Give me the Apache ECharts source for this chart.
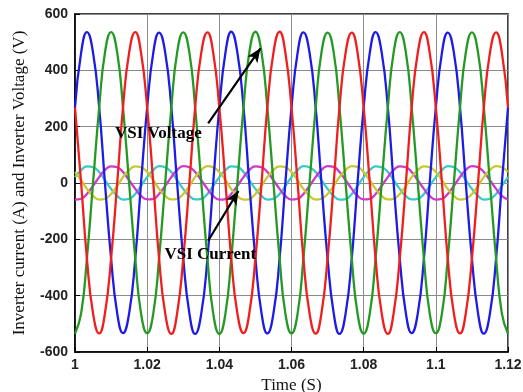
<!DOCTYPE html>
<html>
<head>
<meta charset="utf-8">
<script src="https://cdn.jsdelivr.net/npm/echarts@6/dist/echarts.min.js"></script>
<style>html,body{margin:0;padding:0;background:#fff;}#c{width:523px;height:392px;}</style>
</head>
<body>
<div id="c"></div>
<script>
// Time samples (s)
const time = [
1.0000,1.0017,1.0033,1.0050,1.0067,1.0083,1.0100,1.0117,1.0133,1.0150,1.0167,1.0183,
1.0200,1.0217,1.0233,1.0250,1.0267,1.0283,1.0300,1.0317,1.0333,1.0350,1.0367,1.0383,
1.0400,1.0417,1.0433,1.0450,1.0467,1.0483,1.0500,1.0517,1.0533,1.0550,1.0567,1.0583,
1.0600,1.0617,1.0633,1.0650,1.0667,1.0683,1.0700,1.0717,1.0733,1.0750,1.0767,1.0783,
1.0800,1.0817,1.0833,1.0850,1.0867,1.0883,1.0900,1.0917,1.0933,1.0950,1.0967,1.0983,
1.1000,1.1017,1.1033,1.1050,1.1067,1.1083,1.1100,1.1117,1.1133,1.1150,1.1167,1.1183,
1.1200];

// VSI voltages (V)
const voltageBlue = [
268,463,536,463,268,0,-268,-463,-533,-463,-268,0,
268,463,534,463,268,0,-268,-463,-536,-463,-268,0,
268,463,537,463,268,0,-268,-463,-534,-463,-268,0,
268,463,535,463,268,0,-268,-463,-536,-463,-268,0,
268,463,536,463,268,0,-268,-463,-533,-463,-268,0,
268,463,534,463,268,0,-268,-463,-535,-463,-268,0,
268];
const voltageGreen = [
-535,-463,-268,0,268,463,536,463,268,0,-268,-463,
-533,-463,-268,0,268,463,535,463,268,0,-268,-463,
-536,-463,-268,0,268,463,537,463,268,0,-268,-463,
-534,-463,-268,0,268,463,534,463,268,0,-268,-463,
-535,-463,-268,0,268,463,536,463,268,0,-268,-463,
-533,-463,-268,0,268,463,535,463,268,0,-268,-463,
-535];
const voltageRed = [
268,0,-268,-463,-534,-463,-268,0,268,463,536,463,
268,0,-268,-463,-536,-463,-268,0,268,463,535,463,
268,0,-268,-463,-533,-463,-268,0,268,463,537,463,
268,0,-268,-463,-535,-463,-268,0,268,463,534,463,
268,0,-268,-463,-536,-463,-268,0,268,463,536,463,
268,0,-268,-463,-534,-463,-268,0,268,463,535,463,
268];

// VSI currents (A)
const currentCyan = [
21,46,59,56,39,10,-21,-46,-59,-56,-39,-10,
21,46,60,56,39,10,-21,-46,-58,-56,-39,-10,
21,46,59,57,39,10,-21,-46,-59,-56,-39,-10,
21,46,60,56,39,10,-21,-46,-59,-57,-39,-10,
21,46,59,56,39,10,-21,-46,-58,-56,-39,-10,
21,46,60,56,39,10,-21,-46,-59,-56,-39,-10,
21];
const currentMagenta = [
-59,-56,-39,-10,21,46,59,56,39,10,-21,-46,
-58,-56,-39,-10,21,46,60,56,39,10,-21,-46,
-59,-57,-39,-10,21,46,59,56,39,10,-21,-46,
-59,-56,-39,-10,21,46,60,57,39,10,-21,-46,
-58,-56,-39,-10,21,46,59,56,39,10,-21,-46,
-59,-56,-39,-10,21,46,60,56,39,10,-21,-46,
-59];
const currentYellow = [
39,10,-21,-46,-59,-56,-39,-10,21,46,59,56,
39,10,-21,-46,-58,-56,-39,-10,21,46,60,56,
39,10,-21,-46,-59,-57,-39,-10,21,46,59,56,
39,10,-21,-46,-59,-56,-39,-10,21,46,60,57,
39,10,-21,-46,-58,-56,-39,-10,21,46,59,56,
39,10,-21,-46,-59,-56,-39,-10,21,46,60,56,
39];

const xTickLabels = ['1','1.02','1.04','1.06','1.08','1.1','1.12'];
const yTickLabels = ['-600','-400','-200','0','200','400','600'];

// Annotations (data coordinates)
const voltageArrow = [[1.0369, 212], [1.0514, 478]];
const currentArrow = [[1.0369, -205], [1.0453, -28]];
const voltageLabelPos = [1.0231, 175];
const currentLabelPos = [1.0375, -256];

function pairs(ys) { return time.map((t, i) => [t, ys[i]]); }

const chart = echarts.init(document.getElementById('c'), null, {renderer: 'canvas'});

function line(name, ys, color, extra) {
  return Object.assign({
    name: name, type: 'line', data: pairs(ys), smooth: true, showSymbol: false,
    symbol: 'none', lineStyle: {color: color, width: 2.3}, itemStyle: {color: color},
    animation: false
  }, extra || {});
}

const labelStyle = {
  show: true, position: 'inside', color: '#000', fontFamily: 'Liberation Serif',
  fontWeight: 'bold', fontSize: 17
};

const option = {
  animation: false,
  backgroundColor: '#fff',
  grid: {left: 75, right: 15, top: 14, bottom: 40, containLabel: false, outerBoundsMode: 'none',
         show: true, borderColor: '#000', borderWidth: 1.5, backgroundColor: 'transparent'},
  xAxis: {
    type: 'value', min: 1, max: 1.12, interval: 0.02,
    name: 'Time (S)', nameLocation: 'middle', nameGap: 22,
    nameTextStyle: {fontFamily: 'Liberation Serif', fontSize: 17, color: '#111'},
    axisLine: {show: true, onZero: false, lineStyle: {color: '#000', width: 1.5}},
    axisTick: {show: true, inside: true, length: 5, lineStyle: {color: '#000'}},
    axisLabel: {formatter: (v, i) => xTickLabels[i], fontFamily: 'Liberation Sans', fontWeight: 'bold', fontSize: 14, color: '#222', margin: 6},
    splitLine: {show: true, lineStyle: {color: '#8a8a8a', width: 1}}
  },
  yAxis: {
    type: 'value', min: -600, max: 600, interval: 200,
    name: 'Inverter current (A) and Inverter Voltage (V)', nameLocation: 'middle', nameGap: 47,
    nameTextStyle: {fontFamily: 'Liberation Serif', fontSize: 17, color: '#111'},
    axisLine: {show: true, onZero: false, lineStyle: {color: '#000', width: 1.5}},
    axisTick: {show: true, inside: true, length: 5, lineStyle: {color: '#000'}},
    axisLabel: {formatter: (v, i) => yTickLabels[i], fontFamily: 'Liberation Sans', fontWeight: 'bold', fontSize: 14, color: '#222', margin: 7},
    splitLine: {show: true, lineStyle: {color: '#8a8a8a', width: 1}}
  },
  series: [
    line('Current C', currentCyan, '#3cc8c8'),
    line('Current M', currentMagenta, '#cc3acc'),
    line('Current Y', currentYellow, '#c8c832'),
    line('Voltage B', voltageBlue, '#1c1ce6'),
    line('Voltage G', voltageGreen, '#249a24'),
    line('Voltage R', voltageRed, '#f01e1e', {
      markLine: {
        silent: true, z: 20, animation: false,
        symbol: ['none', 'arrow'], symbolSize: [9, 14],
        lineStyle: {color: '#000', width: 2.2, type: 'solid'},
        label: {show: false},
        data: [
          [{coord: voltageArrow[0]}, {coord: voltageArrow[1]}],
          [{coord: currentArrow[0]}, {coord: currentArrow[1]}]
        ]
      },
      markPoint: {
        silent: true, z: 21, animation: false,
        symbol: 'rect', symbolSize: 1, itemStyle: {color: 'rgba(0,0,0,0)'},
        data: [
          {coord: voltageLabelPos, label: Object.assign({formatter: 'VSI Voltage'}, labelStyle)},
          {coord: currentLabelPos, label: Object.assign({formatter: 'VSI Current'}, labelStyle)}
        ]
      }
    })
  ]
};
chart.setOption(option);
</script>
</body>
</html>
